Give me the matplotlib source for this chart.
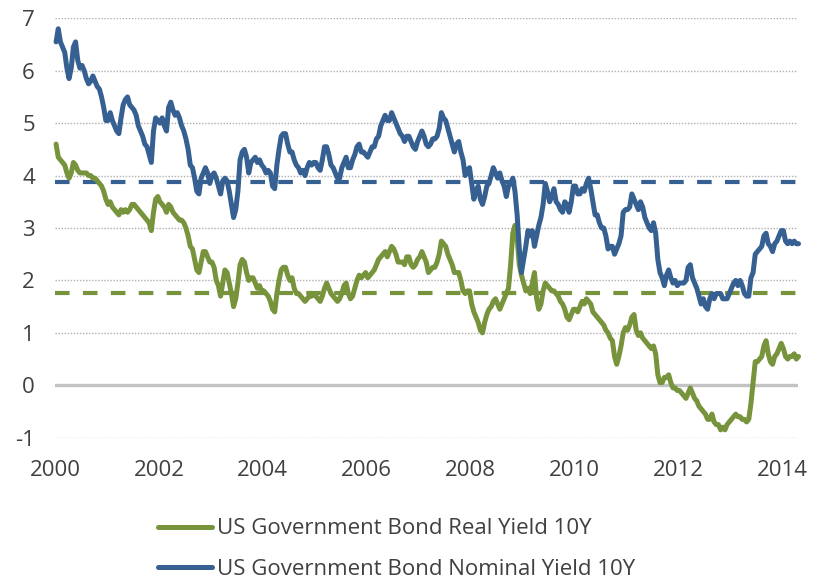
import numpy as np
import matplotlib
matplotlib.use("Agg")
import matplotlib.pyplot as plt

# Half-monthly 10-year US government bond yields (%), Jan 2000 - Apr 2014
# (two readings per month, one row per year)
nominal_yield = [
    6.55, 6.80, 6.55, 6.45, 6.35, 6.05, 5.85, 6.05, 6.45, 6.55, 6.20, 6.05,
    6.10, 6.00, 5.85, 5.75, 5.80, 5.90, 5.80, 5.70, 5.65, 5.50, 5.30, 5.05,  # 2000
    5.05, 5.20, 5.05, 4.95, 4.85, 4.80, 5.10, 5.35, 5.45, 5.50, 5.35, 5.30,
    5.25, 5.15, 4.95, 4.85, 4.75, 4.60, 4.55, 4.40, 4.25, 4.85, 5.10, 5.05,  # 2001
    5.00, 5.10, 4.95, 4.85, 5.30, 5.40, 5.25, 5.15, 5.20, 5.10, 4.95, 4.85,
    4.70, 4.50, 4.20, 4.15, 3.95, 3.70, 3.65, 3.95, 4.05, 4.15, 4.05, 3.85,  # 2002
    4.00, 4.05, 3.95, 3.80, 3.65, 3.90, 3.95, 3.90, 3.70, 3.45, 3.20, 3.35,
    3.70, 4.30, 4.45, 4.50, 4.35, 4.05, 4.25, 4.30, 4.35, 4.25, 4.30, 4.20,  # 2003
    4.15, 4.05, 4.10, 4.05, 3.80, 3.75, 4.20, 4.50, 4.75, 4.80, 4.80, 4.60,
    4.45, 4.45, 4.30, 4.20, 4.15, 4.05, 4.10, 4.00, 4.15, 4.25, 4.20, 4.25,  # 2004
    4.25, 4.15, 4.10, 4.30, 4.55, 4.55, 4.40, 4.20, 4.15, 4.05, 3.95, 3.95,
    4.15, 4.25, 4.35, 4.15, 4.15, 4.30, 4.40, 4.55, 4.60, 4.45, 4.45, 4.40,  # 2005
    4.35, 4.45, 4.55, 4.55, 4.70, 4.75, 4.95, 5.05, 5.15, 5.05, 5.05, 5.20,
    5.10, 5.00, 4.90, 4.80, 4.75, 4.65, 4.75, 4.75, 4.65, 4.55, 4.50, 4.65,  # 2006
    4.75, 4.85, 4.75, 4.60, 4.55, 4.60, 4.70, 4.70, 4.75, 4.90, 5.20, 5.10,
    5.05, 4.90, 4.75, 4.60, 4.45, 4.60, 4.65, 4.45, 4.30, 4.00, 4.10, 4.15,  # 2007
    3.85, 3.55, 3.70, 3.80, 3.55, 3.45, 3.60, 3.80, 3.85, 4.00, 4.15, 4.05,
    3.95, 4.05, 3.90, 3.80, 3.60, 3.80, 3.85, 3.95, 3.70, 3.25, 2.60, 2.15,  # 2008
    2.40, 2.65, 2.95, 2.85, 2.95, 2.65, 2.85, 3.05, 3.20, 3.45, 3.85, 3.70,
    3.50, 3.60, 3.75, 3.50, 3.45, 3.35, 3.30, 3.50, 3.45, 3.30, 3.50, 3.80,  # 2009
    3.80, 3.65, 3.65, 3.75, 3.70, 3.85, 3.95, 3.75, 3.50, 3.25, 3.25, 3.10,
    3.00, 3.00, 2.85, 2.60, 2.65, 2.65, 2.50, 2.60, 2.70, 2.85, 3.30, 3.35,  # 2010
    3.35, 3.40, 3.65, 3.55, 3.45, 3.35, 3.50, 3.40, 3.20, 3.10, 3.00, 2.95,
    3.10, 2.90, 2.40, 2.15, 2.05, 1.90, 2.10, 2.20, 2.05, 1.95, 2.00, 1.90,  # 2011
    1.95, 1.95, 1.95, 2.00, 2.25, 2.30, 2.05, 1.95, 1.85, 1.70, 1.55, 1.65,
    1.50, 1.45, 1.65, 1.75, 1.65, 1.75, 1.75, 1.75, 1.65, 1.65, 1.65, 1.75,  # 2012
    1.85, 1.95, 2.00, 1.90, 2.00, 1.90, 1.75, 1.70, 1.70, 2.05, 2.15, 2.50,
    2.55, 2.60, 2.65, 2.85, 2.90, 2.70, 2.65, 2.55, 2.70, 2.75, 2.85, 2.95,  # 2013
    2.95, 2.75, 2.70, 2.75, 2.70, 2.75, 2.70, 2.70,                          # 2014
]

real_yield = [
    4.60, 4.35, 4.30, 4.25, 4.20, 4.05, 3.95, 4.05, 4.25, 4.20, 4.10, 4.05,
    4.05, 4.05, 4.05, 4.00, 4.00, 3.95, 3.95, 3.90, 3.85, 3.80, 3.70, 3.55,  # 2000
    3.45, 3.50, 3.40, 3.35, 3.30, 3.25, 3.35, 3.30, 3.35, 3.30, 3.35, 3.45,
    3.45, 3.40, 3.35, 3.30, 3.25, 3.20, 3.15, 3.10, 2.95, 3.30, 3.55, 3.60,  # 2001
    3.50, 3.45, 3.40, 3.30, 3.45, 3.40, 3.30, 3.25, 3.20, 3.15, 3.15, 3.10,
    3.00, 2.85, 2.65, 2.60, 2.40, 2.20, 2.15, 2.35, 2.55, 2.55, 2.45, 2.35,  # 2002
    2.35, 2.25, 2.00, 1.90, 1.70, 1.95, 2.20, 2.15, 1.95, 1.75, 1.50, 1.65,
    1.95, 2.30, 2.40, 2.35, 2.15, 2.00, 2.05, 2.05, 1.95, 1.85, 1.90, 1.80,  # 2003
    1.80, 1.75, 1.70, 1.60, 1.45, 1.40, 1.75, 2.00, 2.20, 2.25, 2.25, 2.10,
    2.00, 2.05, 1.85, 1.75, 1.75, 1.70, 1.65, 1.60, 1.65, 1.70, 1.70, 1.75,  # 2004
    1.70, 1.65, 1.60, 1.70, 1.85, 1.95, 1.85, 1.75, 1.70, 1.65, 1.60, 1.65,
    1.75, 1.90, 1.95, 1.75, 1.65, 1.70, 1.85, 2.00, 2.10, 2.05, 2.10, 2.15,  # 2005
    2.05, 2.10, 2.15, 2.20, 2.30, 2.40, 2.45, 2.50, 2.55, 2.45, 2.55, 2.65,
    2.60, 2.50, 2.35, 2.35, 2.35, 2.30, 2.45, 2.45, 2.30, 2.25, 2.30, 2.40,  # 2006
    2.45, 2.55, 2.45, 2.35, 2.15, 2.20, 2.25, 2.25, 2.35, 2.50, 2.75, 2.70,
    2.65, 2.50, 2.40, 2.30, 2.15, 2.15, 2.15, 2.00, 1.80, 1.75, 1.80, 1.80,  # 2007
    1.55, 1.40, 1.30, 1.20, 1.05, 1.00, 1.20, 1.35, 1.45, 1.50, 1.60, 1.65,
    1.55, 1.45, 1.55, 1.65, 1.75, 1.85, 2.30, 2.90, 3.05, 2.80, 2.30, 2.10,  # 2008
    1.95, 1.80, 1.85, 1.75, 1.95, 2.15, 1.65, 1.45, 1.55, 1.80, 1.95, 1.90,
    1.85, 1.80, 1.80, 1.75, 1.70, 1.60, 1.55, 1.45, 1.30, 1.25, 1.35, 1.45,  # 2009
    1.45, 1.40, 1.50, 1.60, 1.55, 1.65, 1.60, 1.55, 1.40, 1.35, 1.30, 1.25,
    1.20, 1.15, 1.05, 1.00, 0.90, 0.85, 0.55, 0.40, 0.55, 0.75, 1.00, 1.10,  # 2010
    1.05, 1.15, 1.30, 1.35, 1.05, 0.95, 1.00, 0.90, 0.85, 0.80, 0.75, 0.70,
    0.75, 0.60, 0.20, 0.05, 0.05, 0.15, 0.15, 0.20, 0.05, -0.05, -0.05, -0.10,  # 2011
    -0.10, -0.15, -0.20, -0.25, -0.15, -0.05, -0.15, -0.25, -0.30, -0.40, -0.45, -0.50,
    -0.55, -0.65, -0.65, -0.55, -0.70, -0.75, -0.75, -0.85, -0.80, -0.85, -0.75, -0.70,  # 2012
    -0.65, -0.60, -0.55, -0.60, -0.60, -0.65, -0.65, -0.70, -0.65, -0.35, 0.05, 0.45,
    0.45, 0.50, 0.55, 0.75, 0.85, 0.60, 0.45, 0.40, 0.55, 0.60, 0.70, 0.80,  # 2013
    0.70, 0.55, 0.50, 0.55, 0.55, 0.60, 0.50, 0.55,                          # 2014
]

# Long-run averages shown as dashed reference levels
nominal_average = 3.88
real_average = 1.76

series_labels = ["US Government Bond Real Yield 10Y",
                 "US Government Bond Nominal Yield 10Y"]
x_ticks = [2000, 2002, 2004, 2006, 2008, 2010, 2012, 2014]
y_ticks = [-1, 0, 1, 2, 3, 4, 5, 6, 7]

GREEN = "#77933C"
BLUE = "#366092"
TEXT = "#404040"

plt.rcParams["font.family"] = ["Open Sans", "DejaVu Sans"]

# half-month positions in decimal years
t = 2000 + (np.arange(len(nominal_yield)) + 0.5) / 24.0

fig = plt.figure(figsize=(8.15, 5.79), dpi=100)
ax = fig.add_axes([55 / 815, 1 - 437.7 / 579, (798 - 55) / 815, (437.7 - 18.3) / 579])

for y in y_ticks:
    if y == 0:
        ax.axhline(0, color="#c3c3c3", lw=2.4, zorder=1)
    else:
        ax.axhline(y, color="#b0b0b0", lw=1.0, ls=(0, (1.0, 1.2)), zorder=1)

ax.axhline(nominal_average, color=BLUE, lw=3.0, ls=(0, (3.5, 3.2)), zorder=2)
ax.axhline(real_average, color=GREEN, lw=3.0, ls=(0, (3.5, 3.2)), zorder=2)

ax.plot(t, real_yield, color=GREEN, lw=3.6, solid_joinstyle="round",
        solid_capstyle="round", label=series_labels[0], zorder=3, clip_on=False)
ax.plot(t, nominal_yield, color=BLUE, lw=3.6, solid_joinstyle="round",
        solid_capstyle="round", label=series_labels[1], zorder=4, clip_on=False)

ax.set_xlim(2000, 2000 + (798 - 55) / 51.95)
ax.set_ylim(-1, 7)
ax.set_xticks(x_ticks)
ax.set_xticklabels([str(v) for v in x_ticks])
ax.set_yticks(y_ticks)
ax.set_yticklabels([str(v) for v in y_ticks])
ax.tick_params(axis="both", length=0, labelsize=16, labelcolor=TEXT)
ax.tick_params(axis="x", pad=16)
ax.tick_params(axis="y", pad=14.5)
for s in ax.spines.values():
    s.set_visible(False)

leg = fig.legend(loc="upper left", bbox_to_anchor=(158 / 815, 1 - 518.5 / 579),
                 frameon=False, fontsize=16, handlelength=2.45, handletextpad=0.22,
                 labelspacing=0.86, borderaxespad=0, borderpad=0)
for txt in leg.get_texts():
    txt.set_color(TEXT)

fig.savefig("out.png", dpi=100)
